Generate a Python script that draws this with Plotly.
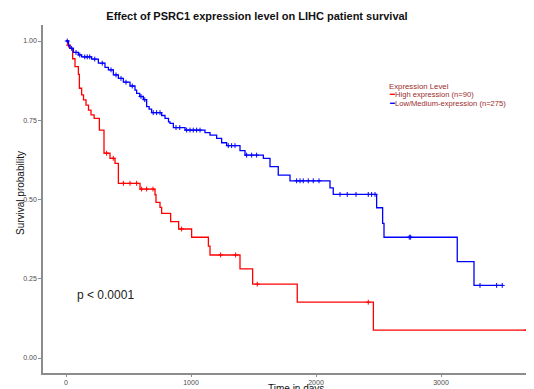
import numpy as np
import plotly.graph_objects as go

# ---------------- data ----------------
high_times = [0, 15, 30, 53, 72, 99, 107, 125, 140, 160, 180, 200, 225, 267, 304, 352, 392, 419,
              592, 712, 720, 752, 765, 837, 901, 1005, 1139, 1152, 1392, 1493, 1850, 2459]
high_surv = [1.0, 0.987, 0.977, 0.944, 0.919, 0.895, 0.851, 0.83, 0.814, 0.798, 0.782, 0.767, 0.756,
             0.719, 0.646, 0.63, 0.614, 0.551, 0.533, 0.515, 0.491, 0.475, 0.456, 0.43, 0.407, 0.381,
             0.353, 0.325, 0.281, 0.233, 0.176, 0.088]
high_end = 3685
high_censor = [20, 325, 378, 459, 512, 565, 605, 645, 696, 925, 1237, 1357, 1530, 2418, 3685]

low_times = [0, 20, 32, 59, 99, 125, 205, 259, 312, 339, 379, 419, 459, 512, 552, 565, 590, 619,
             645, 665, 685, 765, 792, 820, 832, 859, 952, 1112, 1152, 1205, 1245, 1285, 1392, 1432,
             1579, 1632, 1698, 1792, 2112, 2138, 2485, 2533, 2544, 3130, 3264]
low_surv = [1.0, 0.985, 0.977, 0.964, 0.956, 0.95, 0.943, 0.93, 0.917, 0.909, 0.893, 0.882, 0.87,
            0.858, 0.845, 0.835, 0.825, 0.815, 0.793, 0.785, 0.774, 0.765, 0.756, 0.745, 0.74, 0.727,
            0.719, 0.711, 0.703, 0.693, 0.679, 0.67, 0.654, 0.64, 0.63, 0.604, 0.577, 0.559, 0.537,
            0.516, 0.474, 0.425, 0.381, 0.304, 0.229]
low_end = 3490
low_censor = [10, 45, 80, 110, 150, 170, 190, 230, 290, 360, 400, 440, 480, 530, 600, 630, 698, 725,
              752, 880, 910, 965, 992, 1018, 1045, 1072, 1298, 1325, 1352, 1445, 1485, 1525, 1845,
              1872, 1898, 1938, 1978, 2024, 2192, 2250, 2320, 2418, 2445, 2472, 2746, 2757, 3312,
              3445, 3490]

group_names = ["High expression (n=90)", "Low/Medium-expression (n=275)"]
group_colors = ["#ff0000", "#0000ff"]
legend_title = "Expression Level"
pval_text = "p < 0.0001"
x_title = "Time in days"
y_title = "Survival probability"
x_ticks = [0, 1000, 2000, 3000]
y_ticks = [0.0, 0.25, 0.5, 0.75, 1.0]
y_ticklabels = ["0.00", "0.25", "0.50", "0.75", "1.00"]

# ---------------- figure ----------------
# page body has an 8px default margin, so the figure is placed at (8, 8)
OFF = 8
PAGE_W, PAGE_H = 534, 389
W, H = PAGE_W - OFF, PAGE_H - OFF
# plot area in page pixels: x 43..534, y 25..373
ML, MR, MT, MB = 43 - OFF, 0, 25 - OFF, PAGE_H - 373
PW, PH = W - ML - MR, H - MT - MB


def px2paper(px, py):
    """page pixel -> paper fraction of the plot area"""
    return (px - OFF - ML) / PW, (H - MB - (py - OFF)) / PH


def step_value(times, surv, t):
    idx = np.searchsorted(np.array(times), np.array(t), side="right") - 1
    return np.array(surv)[idx]


fig = go.Figure()
groups = [
    (high_times, high_surv, high_end, high_censor),
    (low_times, low_surv, low_end, low_censor),
]
for (t, s, end, cens), name, col in zip(groups, group_names, group_colors):
    fig.add_trace(go.Scatter(
        x=list(t) + [end], y=list(s) + [s[-1]], mode="lines", line_shape="hv",
        line=dict(color=col, width=1.3), name=name, showlegend=False, hoverinfo="skip"))
    fig.add_trace(go.Scatter(
        x=cens, y=step_value(t, s, cens), mode="markers",
        marker=dict(symbol="cross-thin", size=3.5, line=dict(color=col, width=1)),
        showlegend=False, hoverinfo="skip"))

axis_col = "#8c8c8c"
fig.update_xaxes(range=[-184, 3744], tickvals=x_ticks, showgrid=False, zeroline=False,
                 showline=True, linecolor=axis_col, linewidth=1.5, ticks="outside", ticklen=2,
                 tickcolor=axis_col, tickfont=dict(size=7, color="#4d4d4d"))
fig.update_yaxes(range=[-0.0473, 1.0505], tickvals=y_ticks, ticktext=y_ticklabels, showgrid=False,
                 zeroline=False, showline=True, linecolor=axis_col, linewidth=1.5, ticks="outside",
                 ticklen=3, tickcolor=axis_col, tickfont=dict(size=7, color="#4d4d4d"))

leg_col = "#9c2b2b"
annos = []
x0, y0 = px2paper(387, 86)
annos.append(dict(x=x0, y=y0, xref="paper", yref="paper", text=legend_title, showarrow=False,
                  xanchor="left", yanchor="middle", font=dict(size=7.8, color=leg_col)))
for i, (name, col) in enumerate(zip(group_names, group_colors)):
    xi, yi = px2paper(387, 94.7 + 8.3 * i)
    annos.append(dict(x=xi, y=yi, xref="paper", yref="paper",
                      text=f"<span style='color:{col}'>━</span>{name}", showarrow=False,
                      xanchor="left", yanchor="middle", font=dict(size=7.6, color=leg_col)))
xp, yp = px2paper(75, 295)
annos.append(dict(x=xp, y=yp, xref="paper", yref="paper", text=pval_text, showarrow=False,
                  xanchor="left", yanchor="middle", font=dict(size=12, color="#222")))
xt, yt = px2paper(296, 388)
annos.append(dict(x=xt, y=yt, xref="paper", yref="paper", text=x_title, showarrow=False,
                  xanchor="center", yanchor="middle", font=dict(size=10, color="#111")))
xy, yy = px2paper(20, 193)
annos.append(dict(x=xy, y=yy, xref="paper", yref="paper", text=y_title, showarrow=False,
                  textangle=-90, xanchor="center", yanchor="middle",
                  font=dict(size=10, color="#111")))

fig.update_layout(
    width=W, height=H, margin=dict(l=ML, r=MR, t=MT, b=MB, autoexpand=False),
    paper_bgcolor="white", plot_bgcolor="white",
    font=dict(family="Liberation Sans, Arial, sans-serif"),
    title=dict(text="<b>Effect of PSRC1 expression level on LIHC patient survival</b>",
               x=(257 - OFF) / W, xanchor="center", xref="container",
               y=1 - (16 - OFF) / H, yanchor="middle",
               yref="container", font=dict(size=11, color="#111")),
    annotations=annos, showlegend=False,
)
fig.write_html("out.html")
